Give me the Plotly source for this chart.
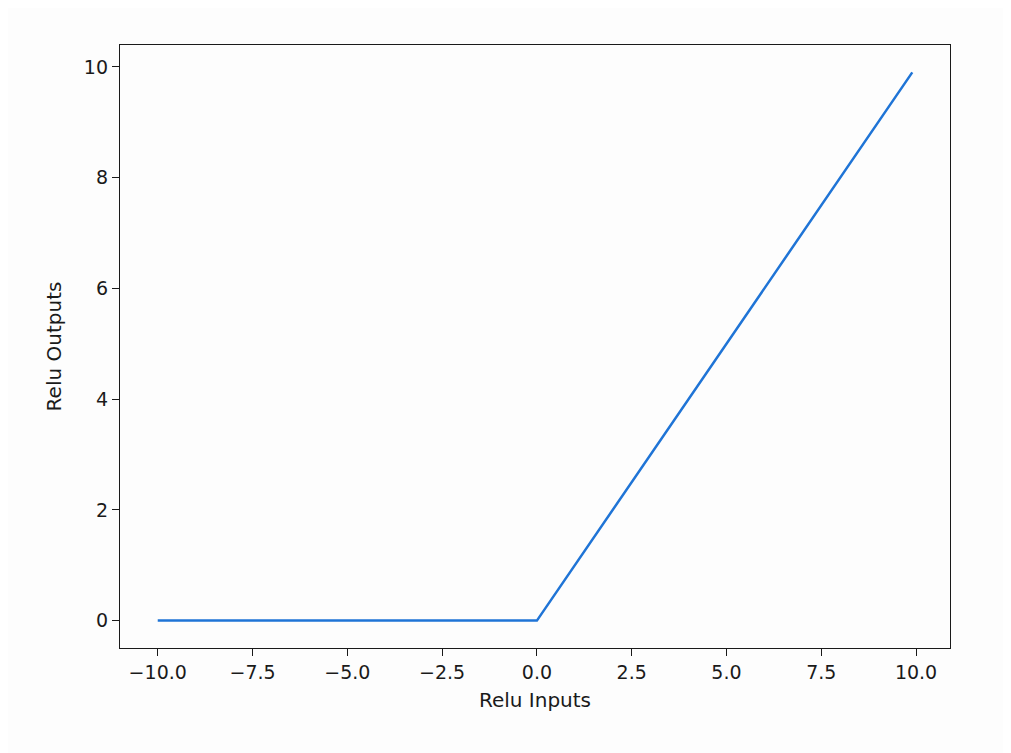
import plotly.graph_objects as go

relu_inputs = [-10.0, 0.0, 9.9]
relu_outputs = [0.0, 0.0, 9.9]
x_ticks = [-10.0, -7.5, -5.0, -2.5, 0.0, 2.5, 5.0, 7.5, 10.0]
x_tick_labels = ["\u221210.0", "\u22127.5", "\u22125.0", "\u22122.5", "0.0", "2.5", "5.0", "7.5", "10.0"]
y_ticks = [0, 2, 4, 6, 8, 10]
y_tick_labels = ["0", "2", "4", "6", "8", "10"]

fig = go.Figure()
fig.add_trace(go.Scatter(x=relu_inputs, y=relu_outputs, mode="lines",
                         line=dict(color="#1f74d6", width=2.5), showlegend=False))

axis_common = dict(showgrid=False, zeroline=False, showline=True, linecolor="#1a1a1a",
                   linewidth=1.4, mirror=True, ticks="outside", ticklen=7, tickwidth=1.3,
                   tickcolor="#1a1a1a", tickfont=dict(family="DejaVu Sans", size=19, color="#1a1a1a"))

fig.update_layout(
    width=1011, height=753,
    margin=dict(l=112, r=69, t=37, b=113),
    paper_bgcolor="#fdfdfd", plot_bgcolor="#fdfdfd",
    font=dict(family="DejaVu Sans", size=19, color="#1a1a1a"),
    xaxis=dict(range=[-10.995, 10.895], tickvals=x_ticks, ticktext=x_tick_labels,
               title=dict(text="Relu Inputs", font=dict(size=20), standoff=10), **axis_common),
    yaxis=dict(range=[-0.495, 10.395], tickvals=y_ticks, ticktext=y_tick_labels,
               title=dict(text="Relu Outputs", font=dict(size=20), standoff=16), **axis_common),
)

fig.write_html("out.html")
